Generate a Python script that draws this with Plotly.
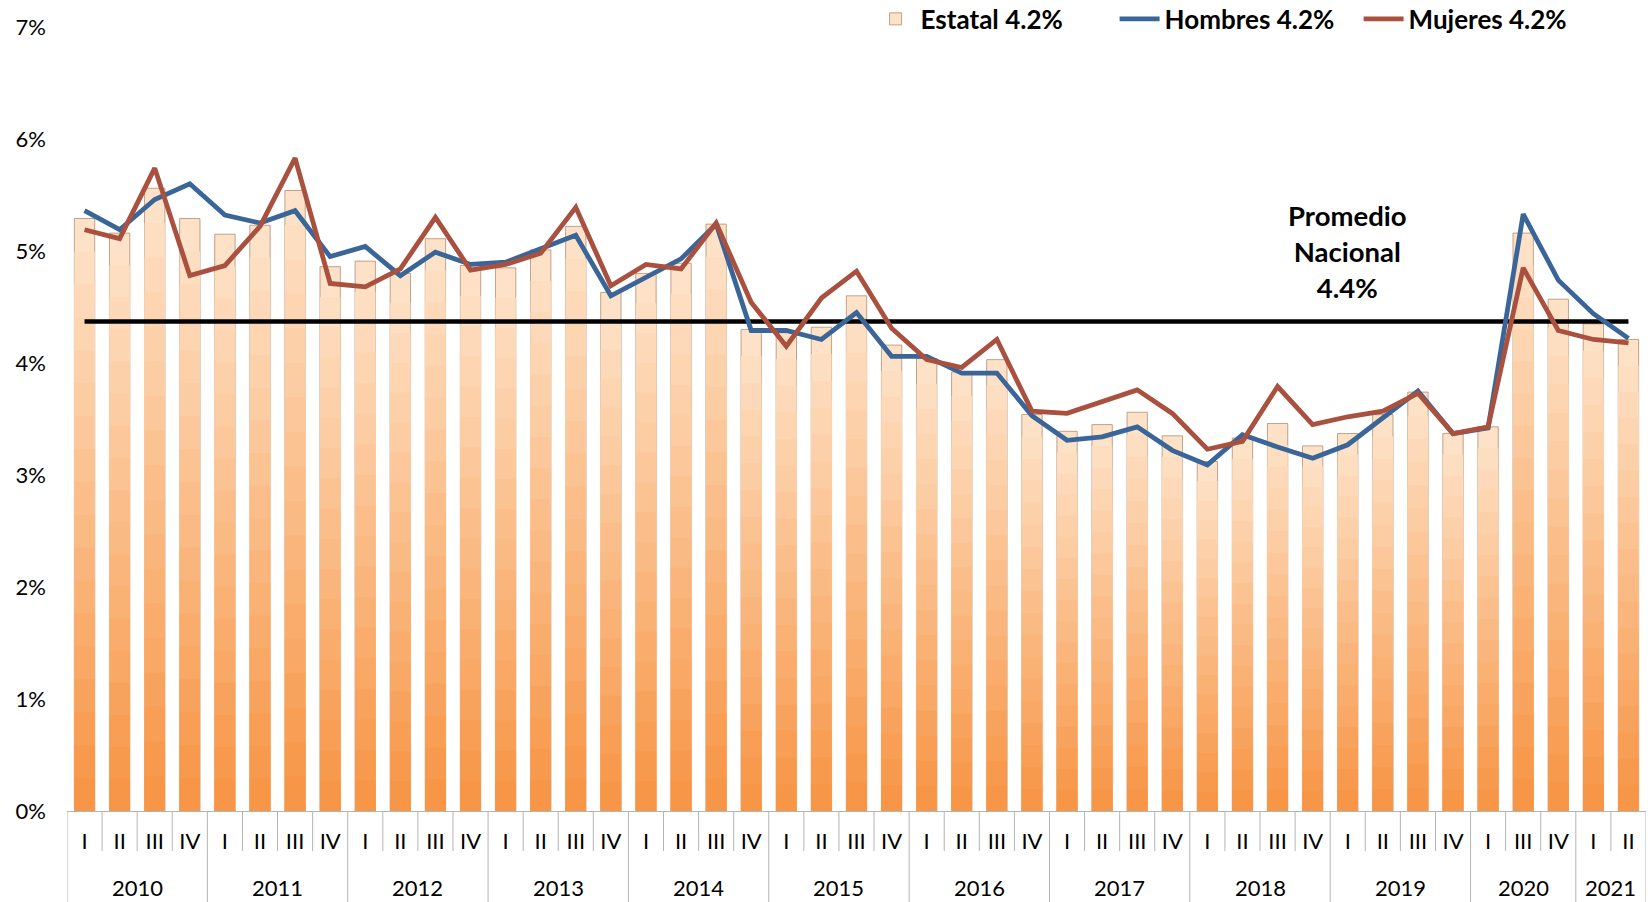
import plotly.graph_objects as go

# ---------------- data ----------------
year_labels = ["2010", "2011", "2012", "2013", "2014", "2015", "2016",
               "2017", "2018", "2019", "2020", "2021"]
quarters_per_year = [4, 4, 4, 4, 4, 4, 4, 4, 4, 4, 3, 2]
quarter_labels = (["I", "II", "III", "IV"] * 10) + ["I", "III", "IV"] + ["I", "II"]

estatal = [5.29, 5.16, 5.56, 5.29,
           5.15, 5.23, 5.54, 4.86,
           4.91, 4.80, 5.11, 4.87,
           4.85, 5.01, 5.22, 4.63,
           4.80, 4.89, 5.24, 4.30,
           4.27, 4.32, 4.60, 4.16,
           4.04, 3.92, 4.03, 3.54,
           3.39, 3.45, 3.56, 3.35,
           3.12, 3.33, 3.46, 3.26,
           3.37, 3.54, 3.74, 3.37,
           3.43, 5.16, 4.57,
           4.35, 4.21]

hombres = [5.36, 5.19, 5.46, 5.60,
           5.32, 5.25, 5.36, 4.95,
           5.04, 4.78, 4.99, 4.88,
           4.90, 5.02, 5.14, 4.60,
           4.76, 4.93, 5.24, 4.29,
           4.29, 4.21, 4.45, 4.06,
           4.06, 3.91, 3.91, 3.53,
           3.31, 3.34, 3.43, 3.22,
           3.09, 3.36, 3.25, 3.15,
           3.27, 3.51, 3.75, 3.37,
           3.42, 5.33, 4.74,
           4.44, 4.22]

mujeres = [5.19, 5.11, 5.74, 4.78,
           4.87, 5.22, 5.83, 4.71,
           4.68, 4.84, 5.30, 4.83,
           4.88, 4.98, 5.39, 4.69,
           4.88, 4.84, 5.25, 4.54,
           4.15, 4.58, 4.82, 4.31,
           4.03, 3.96, 4.21, 3.57,
           3.55, 3.65, 3.76, 3.55,
           3.23, 3.30, 3.79, 3.45,
           3.52, 3.57, 3.73, 3.37,
           3.43, 4.85, 4.29,
           4.21, 4.18]

promedio_nacional = 4.37
promedio_label = "Promedio<br>Nacional<br>4.4%"

# ---------------- styling ----------------
FONT = "Lato, 'Open Sans', sans-serif"
TOP_COLOR = (254, 226, 200)
BOTTOM_COLOR = (247, 150, 70)
GRID_GRAY = "#B4B4B4"
BLUE = "#3A6598"
RED = "#A9503F"
N_LEVELS = 18

x = list(range(len(estatal)))

fig = go.Figure()

# gradient-looking bars: the full bar plus shorter, darker overlays
for j in range(N_LEVELS):
    t = j / (N_LEVELS - 1)
    c = tuple(round(TOP_COLOR[k] + (BOTTOM_COLOR[k] - TOP_COLOR[k]) * t) for k in range(3))
    frac = 1 - j / N_LEVELS
    fig.add_trace(go.Bar(
        x=x,
        y=[v * frac for v in estatal],
        name="Estatal 4.2%",
        showlegend=(j == 0),
        hoverinfo="skip" if j else None,
        marker=dict(color="rgb(%d,%d,%d)" % c,
                    line=dict(color="rgba(175,135,105,0.75)" if j == 0 else "rgba(0,0,0,0)",
                              width=1)),
    ))

fig.add_trace(go.Scatter(
    x=x, y=[promedio_nacional] * len(x), mode="lines",
    line=dict(color="#000000", width=4.5), showlegend=False, name="Promedio Nacional",
))
fig.add_trace(go.Scatter(
    x=x, y=hombres, mode="lines", name="Hombres 4.2%",
    line=dict(color=BLUE, width=4.8),
))
fig.add_trace(go.Scatter(
    x=x, y=mujeres, mode="lines", name="Mujeres 4.2%",
    line=dict(color=RED, width=4.8),
))

# table-like category axis: dividers between quarters and years
shapes = []
boundaries = [0]
for n in quarters_per_year:
    boundaries.append(boundaries[-1] + n)
for b in range(len(x) + 1):
    is_year = b in boundaries
    shapes.append(dict(
        type="line", xref="x", yref="paper",
        x0=b - 0.5, x1=b - 0.5, y0=0, y1=-0.117 if is_year else -0.051,
        line=dict(color=GRID_GRAY, width=1),
    ))

annotations = []
for i, yl in enumerate(year_labels):
    center = (boundaries[i] + boundaries[i + 1] - 1) / 2
    annotations.append(dict(
        x=center, y=-0.098, xref="x", yref="paper", text=yl, showarrow=False,
        font=dict(size=22, color="#000000", family=FONT), yanchor="middle",
    ))
annotations.append(dict(
    x=36, y=5.0, xref="x", yref="y", text=promedio_label, showarrow=False,
    font=dict(size=27.5, color="#000000", family=FONT, weight="bold"), yanchor="middle",
))

fig.update_layout(
    width=1652, height=902,
    margin=dict(l=67, r=6, t=27, b=91, autoexpand=False),
    paper_bgcolor="white", plot_bgcolor="white",
    barmode="overlay", bargap=0.42,
    font=dict(family=FONT, size=22, color="#000000"),
    shapes=shapes, annotations=annotations,
    legend=dict(
        orientation="h", xref="container", yref="container",
        x=0.527, xanchor="left", y=0.979, yanchor="middle",
        font=dict(size=26, family=FONT, weight="bold"),
        bgcolor="rgba(0,0,0,0)", itemwidth=40, traceorder="normal",
        entrywidth=189, entrywidthmode="pixels",
    ),
    xaxis=dict(
        range=[-0.5, 44.5], tickmode="array", tickvals=x, ticktext=quarter_labels,
        showgrid=False, zeroline=False, showline=True, linecolor=GRID_GRAY, linewidth=1,
        ticks="", ticklabelstandoff=11, tickfont=dict(size=22),
    ),
    yaxis=dict(
        range=[0, 7], tickmode="array", tickvals=list(range(8)),
        ticktext=["%d%%" % v for v in range(8)],
        showgrid=False, zeroline=False, showline=False, ticks="",
        ticklabelstandoff=20, tickfont=dict(size=22),
    ),
    hovermode="x",
)

fig.write_html("out.html", config={"displayModeBar": False},
               post_script="document.body.style.margin='0';")
